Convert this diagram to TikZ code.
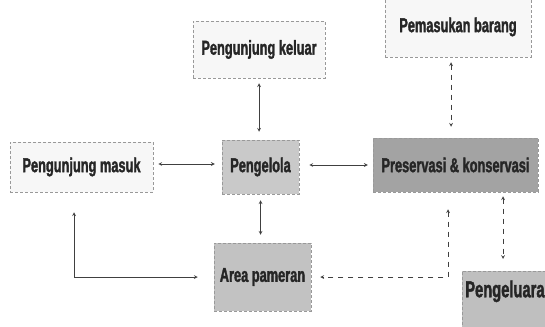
\documentclass[tikz,border=0pt]{standalone}
\usepackage{fontspec}
\newfontfamily\boxfont[FakeStretch=0.64, FakeBold=1.6]{Liberation Sans Bold}

\begin{document}
\begin{tikzpicture}[x=1pt, y=-1pt,
		box/.style={draw=gray!80, densely dashed, line width=0.5pt, inner sep=0pt, text=black!85, font=\boxfont\fontsize{20}{22}\selectfont},
		link/.style={<->, >=stealth, draw=black!75, line width=0.7pt, solid},
		gapline/.style={dash pattern=on 5pt off 5pt}]
				\useasboundingbox (0,0) rectangle (545,326);
				\clip (0,0) rectangle (545,326);
				\node[box, fill=gray!6, minimum width=132pt, minimum height=57pt] (keluar)at(259, 49.5) {Pengunjung keluar};
				\node[box, fill=gray!6, minimum width=146pt, minimum height=60pt] (pemasukan)at(458, 27) {Pemasukan barang};
				\node[box, fill=gray!6, minimum width=143pt, minimum height=50pt] (masuk)at(81.5, 167) {Pengunjung masuk};
				\node[box, fill=gray!42, minimum width=77pt, minimum height=54pt] (pengelola)at(260.5, 167) {Pengelola};
				\node[box, fill=gray!72, minimum width=165pt, minimum height=54pt] (preservasi)at(455.5, 165) {Preservasi \& konservasi};
				\node[box, fill=gray!48, minimum width=97pt, minimum height=68pt] (pameran)at(262.5, 277) {Area pameran};
				\node[box, fill=gray!50, anchor=north west, inner xsep=3pt, inner ysep=11pt, text width=130pt, align=left, text height=15pt, text depth=40pt, font=\boxfont\fontsize{23}{25}\selectfont] (pengeluaran)at(462, 271) {Pengeluaran};
				\draw[link, shorten <=5pt, shorten >=8pt] (keluar.south) -- (keluar.south |- pengelola.north);
				\draw[link, shorten <=5pt, shorten >=7pt] ([yshift=3pt]masuk.east) -- ([yshift=3pt]masuk.east -| pengelola.west);
				\draw[link, shorten <=10pt, shorten >=5pt] ([yshift=2pt]pengelola.east) -- ([yshift=2pt]pengelola.east -| preservasi.west);
				\draw[link, gapline, shorten <=5pt, shorten >=11pt] ([xshift=-7pt]pemasukan.south) -- ([xshift=-7pt]pemasukan.south |- preservasi.north);
				\draw[link, shorten <=6pt, shorten >=8pt] (pengelola.south) -- (pengelola.south |- pameran.north);
				\draw[link, shorten <=20pt, shorten >=16pt] ([xshift=-7.5pt]masuk.south) |- (pameran.west);
				\draw[link, gapline, shorten <=17pt, shorten >=9pt] ([xshift=-7.5pt]preservasi.south) |- (pameran.east);
				\draw[link, gapline, shorten <=4pt, shorten >=12pt] ([xshift=47.5pt]preservasi.south) -- ([xshift=47.5pt]preservasi.south |- pengeluaran.north);
			\end{tikzpicture}
\end{document}
